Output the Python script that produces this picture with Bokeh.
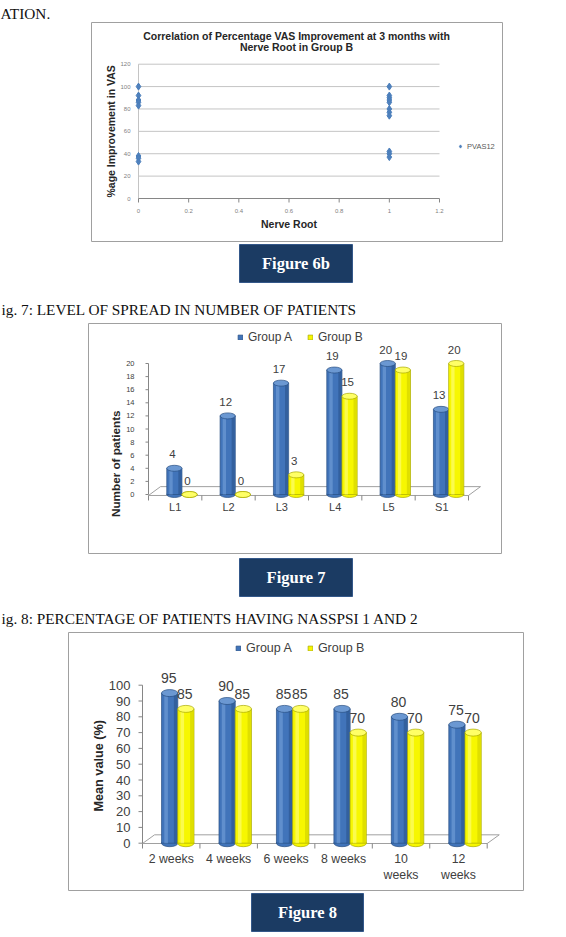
from math import pi

from bokeh.plotting import figure
from bokeh.models import ColumnDataSource, Legend, LegendItem, Range1d
from bokeh.core.properties import value
from bokeh.embed import file_html
from bokeh.resources import INLINE

# ---------------- data ----------------
# Figure 6b: percentage VAS improvement at 3 months against nerve root, group B
nerve_root = [0, 0, 0, 0, 0, 0, 0, 0, 1, 1, 1, 1, 1, 1, 1, 1, 1, 1, 1]
pvas12 = [100, 92, 88, 86, 83, 38, 36, 33, 100, 92, 90, 88, 86, 80, 77, 74, 42, 40, 37]
vas_ticks_x = [0, 0.2, 0.4, 0.6, 0.8, 1, 1.2]
vas_ticks_y = [0, 20, 40, 60, 80, 100, 120]

# Figure 7: level of spread in number of patients
levels = ["L1", "L2", "L3", "L4", "L5", "S1"]
spread_group_a = [4, 12, 17, 19, 20, 13]
spread_group_b = [0, 0, 3, 15, 19, 20]
spread_ticks = [0, 2, 4, 6, 8, 10, 12, 14, 16, 18, 20]

# Figure 8: percentage of patients having NASSPSI 1 and 2
periods = ["2 weeks", "4 weeks", "6 weeks", "8 weeks", "10\nweeks", "12\nweeks"]
nasspsi_group_a = [95, 90, 85, 85, 80, 75]
nasspsi_group_b = [85, 85, 85, 70, 70, 70]
nasspsi_ticks = [0, 10, 20, 30, 40, 50, 60, 70, 80, 90, 100]

group_names = ["Group A", "Group B"]

# ---------------- styling ----------------
PAGE_W, PAGE_H = 566, 937
SANS = "Liberation Sans"
SERIF = "Liberation Serif"
TXT = "#262626"
LABEL = "#404040"
AXIS = "#868686"
GRID = "#c4c4c4"
FRAME = "#a0a0a0"
NAVY = "#1b3b63"
BLUE = dict(body="#4174ba", light="#7aa5dc", dark="#2a538c", edge="#284f82", cap="#6b98d2")
YELLOW = dict(body="#f7f700", light="#ffff8c", dark="#cfcf00", edge="#a9a900", cap="#ffff66")

# The page is one canvas; y grows downwards in page units.
p = figure(width=PAGE_W, height=PAGE_H, x_range=Range1d(0, PAGE_W), y_range=Range1d(PAGE_H, 0),
           x_axis_type=None, y_axis_type=None, min_border=0,
           output_backend="svg", toolbar_location=None)
p.outline_line_color = None
p.background_fill_color = "white"
p.border_fill_color = "white"

# Each chart gets its own data ranges, anchored to its plot area on the page.
x_ranges, y_ranges = {}, {}


def chart_ranges(name, xpx, xval, ypx, yval):
    (xp0, xp1), (xv0, xv1) = xpx, xval
    (yp0, yp1), (yv0, yv1) = ypx, yval
    kx = (xp1 - xp0) / (xv1 - xv0)
    ky = (yp0 - yp1) / (yv1 - yv0)
    x_ranges[name] = Range1d(xv0 - xp0 / kx, xv0 + (PAGE_W - xp0) / kx)
    y_ranges[name] = Range1d(yv0 - (PAGE_H - yp0) / ky, yv0 + yp0 / ky)


chart_ranges("c6", (138, 439), (0, 1.2), (198, 63.7), (0, 120))
chart_ranges("c7", (148, 468), (0, len(levels)), (494, 363), (0, 20))
chart_ranges("c8", (142, 486.7), (0, len(periods)), (842.7, 684.7), (0, 100))
p.extra_x_ranges = x_ranges
p.extra_y_ranges = y_ranges


def rng(name):
    return dict(x_range_name=name, y_range_name=name)


def page_text(x, y, s, size, font=SANS, color=TXT, style="normal", align="center",
              baseline="middle"):
    p.text(x=[x], y=[y], text=[s], text_font=value(font), text_font_size=f"{size}px",
           text_color=color, text_font_style=style, text_align=align, text_baseline=baseline)


def chart_text(name, xs, ys, labels, size, color=LABEL, dx=0, dy=0, align="center",
               baseline="middle", style="normal", angle=0):
    p.text(x=xs, y=ys, text=labels, x_offset=dx, y_offset=dy, angle=angle,
           text_font=value(SANS), text_font_size=f"{size}px", text_color=color,
           text_font_style=style, text_align=align, text_baseline=baseline, **rng(name))


def tick_marks(name, xs, ys, length, angle, color=AXIS):
    p.ray(x=xs, y=ys, length=length, length_units="screen", angle=angle,
          line_color=color, line_width=1, **rng(name))


def chart_box(l, t, r, b):
    p.quad(left=[l], right=[r], top=[t], bottom=[b], fill_color=None,
           line_color=FRAME, line_width=1)


def figure_tag(l, t, r, b, s):
    p.quad(left=[l], right=[r], top=[t], bottom=[b], fill_color=NAVY,
           line_color="#34588a", line_width=1)
    page_text((l + r) / 2, (t + b) / 2, s, 16.5, font=SERIF, color="white", style="bold")


def cylinders(name, xs, vals, width, col, cap_h):
    src = ColumnDataSource(dict(
        x=xs, top=vals,
        xl=[x - width * 0.22 for x in xs],
        xr=[x + width * 0.36 for x in xs]))
    p.ellipse(x="x", y=0, width=width, height=cap_h, height_units="screen", source=src,
              fill_color=col["body"], line_color=col["edge"], line_width=0.7, **rng(name))
    body = p.vbar(x="x", top="top", bottom=0, width=width, source=src,
                  fill_color=col["body"], line_color=col["edge"], line_width=0.7, **rng(name))
    p.vbar(x="xl", top="top", bottom=0, width=width * 0.22, source=src,
           fill_color=col["light"], fill_alpha=0.55, line_color=None, **rng(name))
    p.vbar(x="xr", top="top", bottom=0, width=width * 0.2, source=src,
           fill_color=col["dark"], fill_alpha=0.6, line_color=None, **rng(name))
    p.ellipse(x="x", y="top", width=width, height=cap_h, height_units="screen", source=src,
              fill_color=col["cap"], line_color=col["edge"], line_width=0.7, **rng(name))
    return body


def bar_chart(name, cats, vals_a, vals_b, ticks, title, cfg):
    n = len(cats)
    front, back, depth = cfg["floor"]
    # 3-D floor
    p.patch(x=[0, n, n + depth, depth], y=[front, front, back, back],
            fill_color="white", line_color=FRAME, line_width=1, **rng(name))
    # category axis: separators between categories, names at the centres
    tick_marks(name, list(range(n + 1)), [front] * (n + 1), 5, -pi / 2)
    centres = [i + 0.5 for i in range(n)]
    chart_text(name, centres, [front] * n, cats, cfg["cat_size"], dy=cfg["cat_dy"],
               baseline="top")
    # value axis
    p.segment(x0=[0], x1=[0], y0=[ticks[0]], y1=[ticks[-1]], line_color=AXIS, **rng(name))
    tick_marks(name, [0] * len(ticks), ticks, cfg["tick_len"], pi)
    chart_text(name, [0] * len(ticks), ticks, [str(t) for t in ticks], cfg["val_size"],
               dx=cfg["val_dx"], align="right")
    chart_text(name, [0], [cfg["title_at"]], [title], cfg["title_size"], color=TXT,
               dx=cfg["title_dx"], style="bold", angle=pi / 2)
    # bars
    xa = [c + cfg["off_a"] for c in centres]
    xb = [c + cfg["off_b"] for c in centres]
    ra = cylinders(name, xa, vals_a, cfg["width"], BLUE, cfg["cap"])
    rb = cylinders(name, xb, vals_b, cfg["width"], YELLOW, cfg["cap"])
    for xs, vals in ((xa, vals_a), (xb, vals_b)):
        chart_text(name, xs, vals, [str(v) for v in vals], cfg["num_size"],
                   dx=cfg["num_dx"], dy=cfg["num_dy"])
    lx, ly = cfg["legend"]
    p.add_layout(Legend(
        items=[LegendItem(label=g, renderers=[r]) for g, r in zip(group_names, (ra, rb))],
        location=(lx, PAGE_H - ly), orientation="horizontal", margin=0, padding=0,
        border_line_color=None, background_fill_alpha=0, glyph_width=6, glyph_height=6,
        label_standoff=5, spacing=15, label_height=12, label_text_font=SANS,
        label_text_font_size=f"{cfg['legend_size']}px", label_text_color=LABEL))


# ---------------- page text above Figure 6b ----------------
page_text(0, 12.5, "ATION.", 15.3, font=SERIF, color="#111111", align="left")

# ---------------- Figure 6b: scatter ----------------
chart_box(91, 22, 502, 241)
page_text(296, 35, "Correlation of Percentage VAS Improvement at 3 months with", 10.5,
          style="bold")
page_text(296, 46.5, "Nerve Root in Group B", 10.5, style="bold")

c6 = "c6"
x_end = vas_ticks_x[-1]
grid_y = vas_ticks_y[1:]
p.segment(x0=[0] * len(grid_y), x1=[x_end] * len(grid_y), y0=grid_y, y1=grid_y,
          line_color=GRID, line_width=1, **rng(c6))
p.segment(x0=[0], x1=[0], y0=[vas_ticks_y[0]], y1=[vas_ticks_y[-1]],
          line_color=GRID, line_width=1, **rng(c6))
p.segment(x0=[0], x1=[x_end], y0=[0], y1=[0], line_color=AXIS, line_width=1, **rng(c6))
tick_marks(c6, vas_ticks_x, [0] * len(vas_ticks_x), 4, -pi / 2)
chart_text(c6, vas_ticks_x, [0] * len(vas_ticks_x), [str(t) for t in vas_ticks_x], 6,
           color="#7f7f7f", dy=12)
chart_text(c6, [0] * len(vas_ticks_y), vas_ticks_y, [str(t) for t in vas_ticks_y], 6,
           color="#7f7f7f", dx=-8, align="right")
chart_text(c6, [x_end / 2], [0], ["Nerve Root"], 10.5, color=TXT, dy=25, style="bold")
chart_text(c6, [0], [vas_ticks_y[-1] / 2], ["%age Improvement in VAS"], 10.5, color=TXT,
           dx=-28, style="bold", angle=pi / 2)

vas_src = ColumnDataSource(dict(root=nerve_root, pvas=pvas12))
r_pvas = p.scatter("root", "pvas", source=vas_src, marker="diamond", size=7,
                   fill_color="#4f81bd", line_color="#4a7ebb", **rng(c6))
p.add_layout(Legend(items=[LegendItem(label="PVAS12", renderers=[r_pvas])],
                    location=(456, PAGE_H - 150.5), margin=0, padding=0,
                    border_line_color=None, background_fill_alpha=0, glyph_width=8,
                    glyph_height=8, label_standoff=3, label_height=9, label_text_font=SANS,
                    label_text_font_size="7.5px", label_text_color="#595959"))
figure_tag(239, 244, 352, 282, "Figure 6b")

# ---------------- Figure 7 ----------------
page_text(1, 309, "ig. 7: LEVEL OF SPREAD IN NUMBER OF PATIENTS", 15.3, font=SERIF,
          color="#111111", align="left")
chart_box(88, 323, 501, 553)
bar_chart("c7", levels, spread_group_a, spread_group_b, spread_ticks, "Number of patients",
          dict(floor=(-0.15, 1.2, 0.225), cat_size=11, cat_dy=6, tick_len=3, val_size=7.5,
               val_dx=-14, title_size=11.7, title_at=4.7, title_dx=-33, off_a=-0.015,
               off_b=0.27, width=0.285, cap=6, num_size=11.5, num_dx=-2, num_dy=-14,
               legend=(237, 344), legend_size=12))
figure_tag(239, 558, 352, 596, "Figure 7")

# ---------------- Figure 8 ----------------
page_text(1, 618, "ig. 8: PERCENTAGE OF PATIENTS HAVING NASSPSI 1 AND 2", 15.3, font=SERIF,
          color="#111111", align="left")
chart_box(68, 632, 523, 890)
bar_chart("c8", periods, nasspsi_group_a, nasspsi_group_b, nasspsi_ticks, "Mean value (%)",
          dict(floor=(-0.19, 5.3, 0.21), cat_size=12.3, cat_dy=8, tick_len=4, val_size=13,
               val_dx=-12, title_size=12.7, title_at=49, title_dx=-44, off_a=-0.027,
               off_b=0.255, width=0.283, cap=7, num_size=14, num_dx=-1, num_dy=-15,
               legend=(235, 654.5), legend_size=12.5))
figure_tag(251, 893, 363, 931, "Figure 8")

open("out.html", "w").write(file_html(p, INLINE))
